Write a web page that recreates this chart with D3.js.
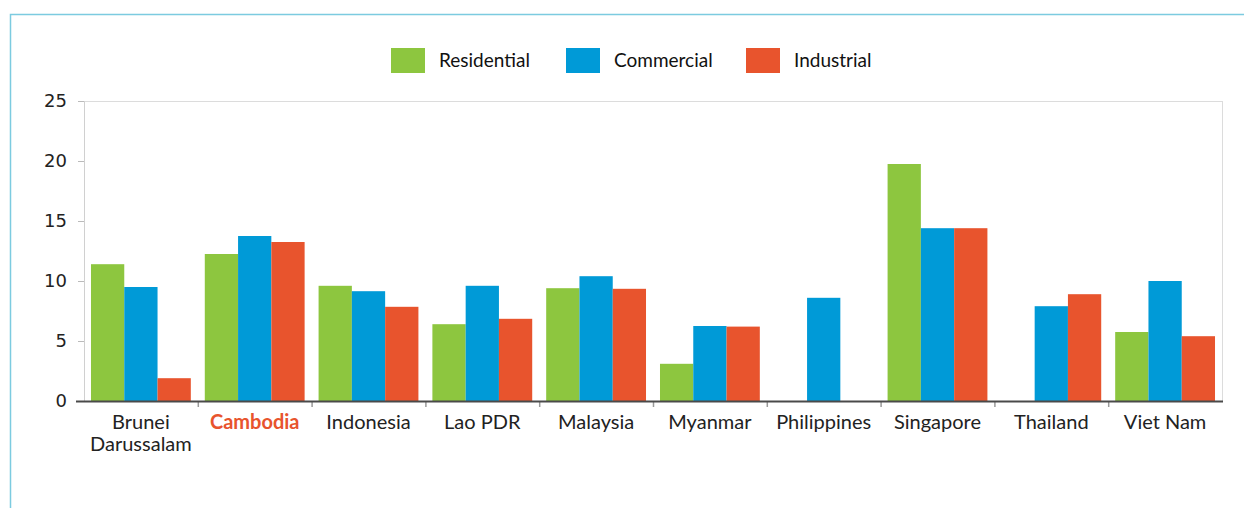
<!DOCTYPE html>
<html>
<head>
<meta charset="utf-8">
<script src="https://cdn.jsdelivr.net/npm/d3@7"></script>
<style>
  html, body { margin: 0; padding: 0; background: #fff; }
  #chart { width: 1244px; height: 508px; }
</style>
</head>
<body>
<div id="chart"></div>
<script>
/* grouped bars by country, three sectors */
const countries = ["Brunei Darussalam", "Cambodia", "Indonesia", "Lao PDR", "Malaysia",
  "Myanmar", "Philippines", "Singapore", "Thailand", "Viet Nam"];
const seriesNames = ["Residential", "Commercial", "Industrial"];
const residential = [11.4, 12.25, 9.6, 6.4, 9.4, 3.1, null, 19.75, null, 5.75];
const commercial  = [9.5, 13.75, 9.15, 9.6, 10.4, 6.25, 8.6, 14.4, 7.9, 10.0];
const industrial  = [1.9, 13.25, 7.85, 6.85, 9.35, 6.2, null, 14.4, 8.9, 5.4];
const yTicks = [0, 5, 10, 15, 20, 25];
const colors = ["#8dc63f", "#009ad7", "#e8542d"];

const W = 1244, Ht = 508;
const m = { t: 101, r: 22, b: 107, l: 84 };
const svg = d3.select("#chart").append("svg").attr("width", W).attr("height", Ht);

// outer frame (light blue)
svg.append("path").attr("d", `M10.5,${Ht} V14.5 H${W}`)
  .attr("fill", "none").attr("stroke", "#7ccbe0").attr("stroke-width", 1.5);

const rows = countries.map((c, i) => ({ name: c, vals: [residential[i], commercial[i], industrial[i]] }));

const x = d3.scaleBand().domain(countries).range([m.l, W - m.r]).padding(0);
const xi = d3.scaleBand().domain(seriesNames).range([0, x.bandwidth()]).paddingInner(0).paddingOuter(0.21);
const y = d3.scaleLinear().domain([0, 25]).range([Ht - m.b, m.t]);
const color = d3.scaleOrdinal().domain(seriesNames).range(colors);

// plot frame
svg.append("rect").attr("x", m.l + 0.5).attr("y", y(25) + 0.5)
  .attr("width", W - m.r - m.l).attr("height", y(0) - y(25))
  .attr("fill", "none").attr("stroke", "#dcdcdc").attr("stroke-width", 1);

// y axis
const ya = svg.append("g").attr("transform", `translate(${m.l},0)`)
  .call(d3.axisLeft(y).tickValues(yTicks).tickSize(6).tickPadding(11));
ya.select(".domain").attr("stroke", "#d0d0d0");
ya.selectAll(".tick line").attr("stroke", "#bbb");
ya.selectAll(".tick text").attr("font-family", "'DejaVu Sans', sans-serif")
  .attr("font-size", 18).attr("fill", "#222");

// bars
svg.append("g").selectAll("g").data(rows).join("g")
  .attr("transform", d => `translate(${x(d.name)},0)`)
  .selectAll("rect").data(d => d.vals.map((v, k) => ({ s: seriesNames[k], v })).filter(o => o.v != null))
  .join("rect")
  .attr("x", o => xi(o.s))
  .attr("width", xi.bandwidth())
  .attr("y", o => y(o.v))
  .attr("height", o => y(0) - y(o.v))
  .attr("fill", o => color(o.s));

// x axis: ticks at band boundaries
const bounds = countries.map(c => x(c)).concat([x.range()[1]]);
const xg = svg.append("g");
xg.selectAll("line.tk").data(bounds.slice(1, -1)).join("line")
  .attr("x1", d => d + 0.5).attr("x2", d => d + 0.5)
  .attr("y1", y(0)).attr("y2", y(0) + 6)
  .attr("stroke", "#999").attr("stroke-width", 1.5);
xg.append("line").attr("x1", m.l - 8).attr("x2", W - m.r + 1)
  .attr("y1", y(0) + 0.5).attr("y2", y(0) + 0.5)
  .attr("stroke", "#4a4a4a").attr("stroke-width", 2);

const lbl = xg.selectAll("text").data(countries).join("text")
  .attr("x", c => x(c) + x.bandwidth() / 2)
  .attr("y", y(0) + 28)
  .attr("text-anchor", "middle")
  .attr("font-family", "Lato, sans-serif")
  .attr("font-size", 20)
  .attr("font-weight", c => c === "Cambodia" ? "bold" : "normal")
  .attr("fill", c => c === "Cambodia" ? "#e8542d" : "#222");
lbl.each(function (c) {
  const t = d3.select(this);
  const parts = c === "Brunei Darussalam" ? ["Brunei", "Darussalam"] : [c];
  parts.forEach((p, i) => t.append("tspan").attr("x", x(c) + x.bandwidth() / 2)
    .attr("dy", i ? 22 : 0).text(p));
});

// legend
const legX = [391, 566, 746];
const leg = svg.append("g").selectAll("g").data(seriesNames).join("g")
  .attr("transform", (d, i) => `translate(${legX[i]},48)`);
leg.append("rect").attr("width", 34).attr("height", 25).attr("fill", d => color(d));
leg.append("text").attr("x", 48).attr("y", 19)
  .attr("font-family", "Lato, sans-serif").attr("font-size", 19).attr("fill", "#111")
  .text(d => d);
</script>
</body>
</html>
